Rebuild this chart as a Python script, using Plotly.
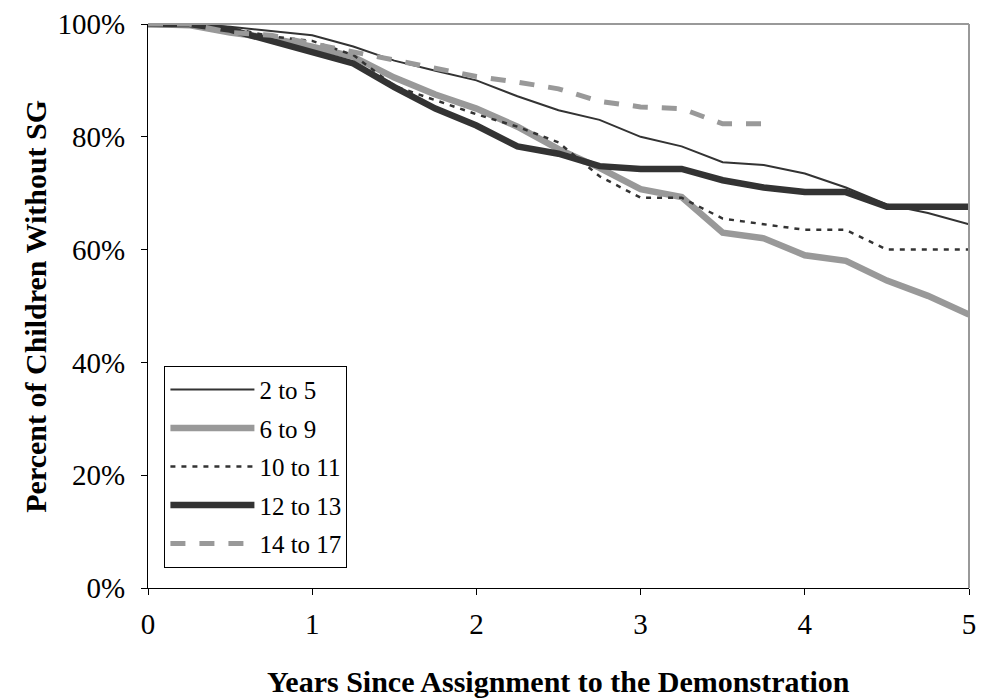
import plotly.graph_objects as go

years = [0, 0.25, 0.5, 0.75, 1, 1.25, 1.5, 1.75, 2, 2.25, 2.5, 2.75, 3, 3.25, 3.5, 3.75, 4, 4.25, 4.5, 4.75, 5]

age_2_5 = [100, 100, 99.5, 98.8, 98, 96, 93.5, 91.7, 90, 87.2, 84.7, 83, 80, 78.3, 75.5, 75, 73.5, 71, 68, 66.5, 64.5]
age_6_9 = [100, 99.8, 98.5, 97.5, 96, 94.2, 90.5, 87.5, 85, 81.8, 77.8, 74.5, 70.7, 69.3, 63, 62, 59, 58, 54.5, 51.8, 48.5]
age_10_11 = [100, 100, 99.3, 97.8, 97, 94.5, 89, 86.5, 84, 81.8, 79, 73, 69.2, 69.2, 65.5, 64.5, 63.5, 63.5, 60, 60, 60]
age_12_13 = [100, 100, 99, 97, 95.2, 93, 88.8, 85, 82, 78.3, 77, 74.8, 74.3, 74.3, 72.3, 71, 70.2, 70.2, 67.6, 67.6, 67.6]
age_14_17 = [100, 100, 98.5, 98, 96.5, 95, 93.5, 92.2, 90.7, 89.7, 88.5, 86.3, 85.3, 85, 82.3, 82.3]

names = ["2 to 5", "6 to 9", "10 to 11", "12 to 13", "14 to 17"]
series = [age_2_5, age_6_9, age_10_11, age_12_13, age_14_17]
styles = [
    dict(color="#333333", width=2, dash="solid"),
    dict(color="#999999", width=6.5, dash="solid"),
    dict(color="#333333", width=2.5, dash="5px,6px"),
    dict(color="#333333", width=6.5, dash="solid"),
    dict(color="#999999", width=5, dash="15px,14px"),
]

y_ticks = [0, 20, 40, 60, 80, 100]
y_tick_labels = ["0%", "20%", "40%", "60%", "80%", "100%"]
x_ticks = [0, 1, 2, 3, 4, 5]
x_tick_labels = ["0", "1", "2", "3", "4", "5"]

FONT = "Liberation Serif, Times New Roman, serif"

fig = go.Figure()
for i, (nm, s, st) in enumerate(zip(names, series, styles)):
    fig.add_trace(go.Scatter(
        x=years[:len(s)], y=s, name=nm, mode="lines",
        line=st, cliponaxis=False, legendgroup=f"g{i}",
    ))

fig.update_layout(
    width=981, height=698,
    margin=dict(l=148, r=12, t=24, b=110, autoexpand=False),
    paper_bgcolor="white", plot_bgcolor="white",
    font=dict(family=FONT, size=29, color="black"),
    showlegend=True,
    legend=dict(
        x=0.02, y=0.394, xanchor="left", yanchor="top",
        bgcolor="white", bordercolor="black", borderwidth=1,
        font=dict(family=FONT, size=25, color="black"),
        tracegroupgap=3, traceorder="grouped", itemwidth=84,
    ),
    xaxis=dict(
        range=[0, 5], tickmode="array", tickvals=x_ticks, ticktext=x_tick_labels,
        showgrid=False, zeroline=False, showline=True, linecolor="black", linewidth=1,
        ticks="outside", ticklen=6, tickcolor="black", automargin=False,
        tickfont=dict(family=FONT, size=29, color="black"),
        ticklabelstandoff=4,
    ),
    yaxis=dict(
        range=[0, 100], tickmode="array", tickvals=y_ticks, ticktext=y_tick_labels,
        showgrid=False, zeroline=False, showline=True, linecolor="black", linewidth=1,
        ticks="outside", ticklen=6, tickcolor="black", automargin=False,
        tickfont=dict(family=FONT, size=29, color="black"),
        ticklabelstandoff=10,
    ),
    shapes=[
        dict(type="line", xref="paper", yref="paper", x0=0, x1=1, y0=1, y1=1,
             line=dict(color="#999999", width=2)),
        dict(type="line", xref="paper", yref="paper", x0=1, x1=1, y0=0, y1=1,
             line=dict(color="#999999", width=2)),
    ],
    annotations=[
        dict(text="<b>Years Since Assignment to the Demonstration</b>", xref="paper", yref="paper",
             x=0.5, y=-0.165, xanchor="center", yanchor="middle", showarrow=False,
             font=dict(family=FONT, size=30)),
        dict(text="<b>Percent of Children Without SG</b>", xref="paper", yref="paper",
             x=-0.138, y=0.5, xanchor="center", yanchor="middle", textangle=-90, showarrow=False,
             font=dict(family=FONT, size=30)),
    ],
)

fig.write_html("out.html")
